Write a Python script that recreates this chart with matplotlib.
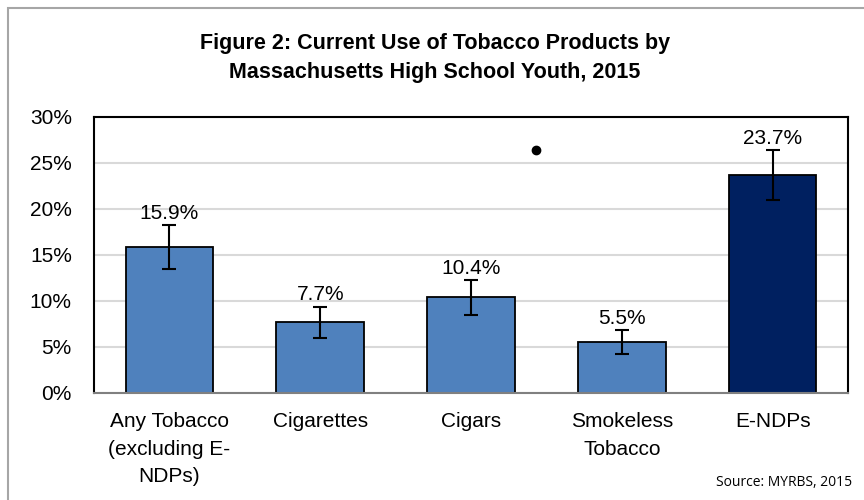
import matplotlib as mpl
import matplotlib.pyplot as plt
from matplotlib.patches import Rectangle
from matplotlib.ticker import FuncFormatter, MultipleLocator
import numpy as np

categories = ["Any Tobacco\n(excluding E-\nNDPs)", "Cigarettes", "Cigars", "Smokeless\nTobacco", "E-NDPs"]
values = [15.9, 7.7, 10.4, 5.5, 23.7]
ci_low = [13.5, 6.0, 8.5, 4.2, 21.0]
ci_high = [18.3, 9.4, 12.3, 6.8, 26.4]
bar_colors = ["#4F81BD", "#4F81BD", "#4F81BD", "#4F81BD", "#002060"]
stray_dot = (2.43, 26.4)

mpl.rcParams["font.family"] = ["Liberation Sans", "DejaVu Sans"]
txt_size = 15

fig = plt.figure(figsize=(8.64, 5.0), dpi=100)
ax = fig.add_axes([0.1088, 0.214, 0.8727, 0.552])

x = np.arange(len(categories))
vals = np.array(values)
err = np.vstack([vals - np.array(ci_low), np.array(ci_high) - vals])

ax.bar(x, vals, width=0.58, color=bar_colors, edgecolor="black", linewidth=1.3, zorder=3)
ax.errorbar(x, vals, yerr=err, fmt="none", ecolor="black", elinewidth=1.5, capsize=5, capthick=1.5, zorder=4)

for xi, v, hi in zip(x, values, ci_high):
  ax.annotate(f"{v:.1f}%", (xi, hi), xytext=(0, 1.5), textcoords="offset points",
              ha="center", va="bottom", fontsize=txt_size)

ax.plot([stray_dot[0]], [stray_dot[1]], "o", color="black", markersize=6, zorder=5)

ax.set_xlim(-0.5, len(categories) - 0.5)
ax.set_ylim(0, 30)
ax.yaxis.set_major_locator(MultipleLocator(5))
ax.yaxis.set_major_formatter(FuncFormatter(lambda y, _: f"{y:.0f}%"))
ax.set_xticks(x)
ax.set_xticklabels(categories, fontsize=txt_size, linespacing=1.55)
ax.tick_params(axis="y", labelsize=txt_size, length=0, pad=16)
ax.tick_params(axis="x", length=0, pad=14)
ax.yaxis.grid(True, color="#D9D9D9", linewidth=1.5, zorder=0)

for side in ["top", "left", "right"]:
  ax.spines[side].set_color("black")
  ax.spines[side].set_linewidth(1.5)
ax.spines["bottom"].set_color("#808080")
ax.spines["bottom"].set_linewidth(1.5)
ax.spines["bottom"].set_zorder(5)

fig.text(0.503, 0.884, "Figure 2: Current Use of Tobacco Products by\nMassachusetts High School Youth, 2015",
         ha="center", va="center", fontsize=15.5, fontweight="bold", linespacing=1.5)

fig.text(0.986, 0.036, "Source: MYRBS, 2015", ha="right", va="center", fontsize=10,
         family=["Open Sans", "DejaVu Sans"])

fig.patches.append(Rectangle((8 / 864, -0.1), 1.0, 1.084, transform=fig.transFigure,
                             fill=False, edgecolor="#A6A6A6", linewidth=1.5))

fig.savefig("out.png", dpi=100)
